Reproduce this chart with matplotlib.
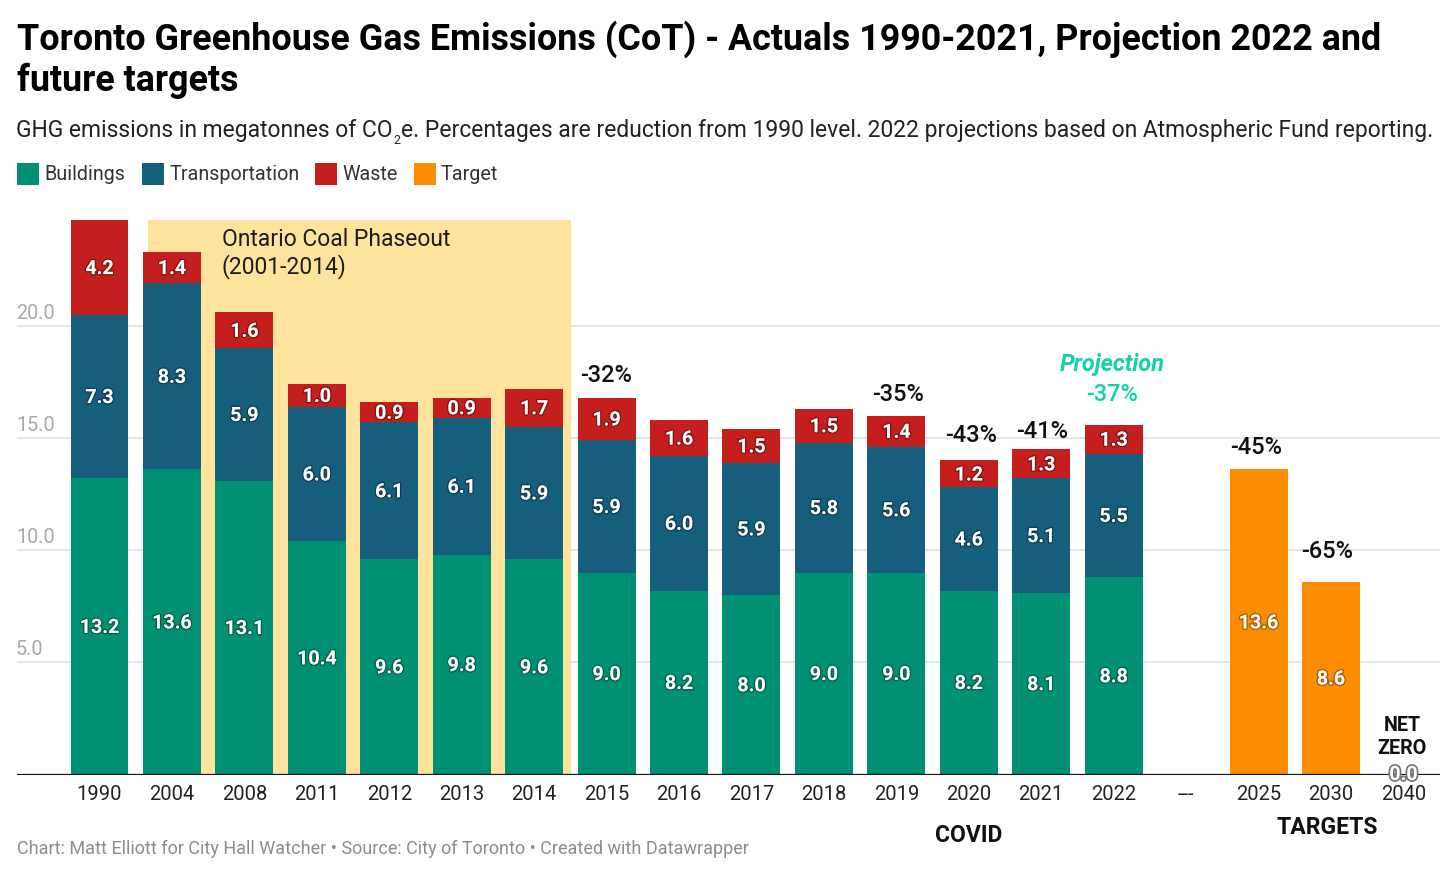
import matplotlib
matplotlib.use('Agg')
import matplotlib.pyplot as plt
import matplotlib.patheffects as pe
from matplotlib.patches import Rectangle

plt.rcParams['font.family'] = ['Roboto', 'DejaVu Sans']

years = ['1990', '2004', '2008', '2011', '2012', '2013', '2014', '2015', '2016',
         '2017', '2018', '2019', '2020', '2021', '2022', '---', '2025', '2030', '2040']
buildings = [13.2, 13.6, 13.1, 10.4, 9.6, 9.8, 9.6, 9.0, 8.2, 8.0, 9.0, 9.0, 8.2, 8.1, 8.8]
transportation = [7.3, 8.3, 5.9, 6.0, 6.1, 6.1, 5.9, 5.9, 6.0, 5.9, 5.8, 5.6, 4.6, 5.1, 5.5]
waste = [4.2, 1.4, 1.6, 1.0, 0.9, 0.9, 1.7, 1.9, 1.6, 1.5, 1.5, 1.4, 1.2, 1.3, 1.3]
target_years = ['2025', '2030', '2040']
target = [13.6, 8.6, 0.0]
y_ticks = [5, 10, 15, 20]
# year -> reduction label shown above the bar
reductions = {'2015': '-32%', '2019': '-35%', '2020': '-43%', '2021': '-41%',
              '2025': '-45%', '2030': '-65%'}
# hand placed offsets of those labels from the bar top, in pixels
reduction_offsets = {'2015': (-1, 22), '2019': (2, 21), '2020': (2, 25), '2021': (1, 18),
                     '2025': (-2, 22), '2030': (-4, 30)}

GREEN = '#009175'
BLUE = '#155f7d'
RED = '#c41e1e'
ORANGE = '#fc8c00'
W, H = 1456, 876


def px(x):
    return x / W


def py(y):
    return 1 - y / H


def bar_label(ax, x, y, s):
    ax.annotate(s, (x, y), xytext=(0, -1), textcoords='offset pixels', ha='center',
                va='center', color='white', fontsize=14.2, fontweight='bold', zorder=6,
                path_effects=[pe.withStroke(linewidth=2, foreground='#00000055')])


fig = plt.figure(figsize=(W / 100, H / 100), dpi=100)
ax = fig.add_axes([px(17), py(774.5), px(1440 - 17), (774.5 - 220) / H])
ax.set_xlim((17 - 99.5) / 72.44, (1440 - 99.5) / 72.44)
ax.set_ylim(0, (774.5 - 220) / 22.43)
for s in ax.spines.values():
    s.set_visible(False)
ax.set_yticks([])
ax.set_xticks([])

# gridlines and their labels
for t in y_ticks:
    ax.axhline(t, color='#e0e0e0', lw=1.2, zorder=1)
    ax.annotate(f'{t:.1f}', (0, t), xycoords=('axes fraction', 'data'),
                xytext=(-1, 3), textcoords='offset pixels', ha='left',
                va='bottom', color='#a8a8a8', fontsize=14.2)

# coal phaseout band
ax.add_patch(Rectangle((0.667, 0), 5.84, ax.get_ylim()[1], color='#fee39d',
                       lw=0, zorder=2))
ax.text(1.69, 23.24, 'Ontario Coal Phaseout\n(2001-2014)', fontsize=16.5,
        color='#1d1d1d', va='center', ha='left', zorder=3, linespacing=1.16)

xs = list(range(len(buildings)))
b2 = buildings
b3 = [a + b for a, b in zip(buildings, transportation)]
ax.bar(xs, buildings, width=0.8, color=GREEN, zorder=4)
ax.bar(xs, transportation, width=0.8, bottom=b2, color=BLUE, zorder=4)
ax.bar(xs, waste, width=0.8, bottom=b3, color=RED, zorder=4)
tx = [years.index(y) for y in target_years]
ax.bar(tx, target, width=0.8, color=ORANGE, zorder=4)

for i in xs:
    bar_label(ax, i, buildings[i] / 2, f'{buildings[i]:.1f}')
    bar_label(ax, i, b2[i] + transportation[i] / 2, f'{transportation[i]:.1f}')
    bar_label(ax, i, b3[i] + waste[i] / 2, f'{waste[i]:.1f}')
for i, v in zip(tx, target):
    if v > 0:
        bar_label(ax, i, v / 2, f'{v:.1f}')

ax.axhline(0, color='#111111', lw=1.6, zorder=5)
ax.text(tx[2], 0, '0.0', ha='center', va='center', color='white', fontsize=14.2,
        fontweight='bold', zorder=7,
        path_effects=[pe.withStroke(linewidth=2.5, foreground='#777777')])

# x labels
for i, y in enumerate(years):
    ax.annotate(y, (i, 0), xycoords=('data', 'axes fraction'), xytext=(0, -20),
                textcoords='offset pixels', ha='center', va='center',
                fontsize=14.5, color='#222222')

# reduction labels
for y, s in reductions.items():
    i = years.index(y)
    top = target[target_years.index(y)] if y in target_years else b3[i] + waste[i]
    ax.annotate(s, (i, top), xytext=reduction_offsets[y], textcoords='offset pixels',
                ha='center', va='center', fontsize=17, fontweight='medium',
                color='#111111', zorder=7)

ax.text(13.98, 16.94, '-37%', ha='center', va='center', fontsize=17,
        fontweight='medium', color='#12d3a5', zorder=7)
ax.text(13.98, 18.28, 'Projection', ha='center', va='center', fontsize=16.8,
        fontweight='bold', style='italic', color='#12d3a5', zorder=7)
ax.text(17.98, 1.68, 'NET\nZERO', ha='center', va='center', fontsize=14.2,
        fontweight='bold', color='#111111', zorder=7, linespacing=1.3)

# text outside the plot area
fig.text(px(17), py(39), 'Toronto Greenhouse Gas Emissions (CoT) - Actuals 1990-2021, '
         'Projection 2022 and', fontsize=25.85, fontweight='bold', color='black', va='center')
fig.text(px(17), py(81), 'future targets', fontsize=25.85, fontweight='bold',
         color='black', va='center')

# subtitle in three pieces so the subscript can sit low and small
renderer = fig.canvas.get_renderer()
sub_a = fig.text(px(16.5), py(131), 'GHG emissions in megatonnes of CO', fontsize=16.5,
                 color='#222222', va='center')
xa = sub_a.get_window_extent(renderer).x1
sub_2 = fig.text((xa + 0.5) / W, py(141), '2', fontsize=9, color='#222222', va='center')
xb = sub_2.get_window_extent(renderer).x1
fig.text((xb + 0.5) / W, py(131), 'e. Percentages are reduction from 1990 level. '
         '2022 projections based on Atmospheric Fund reporting.', fontsize=16.5,
         color='#222222', va='center')

legend_items = [('Buildings', GREEN, 17), ('Transportation', BLUE, 142),
                ('Waste', RED, 315), ('Target', ORANGE, 414)]
for name, c, x in legend_items:
    fig.add_artist(Rectangle((px(x), py(185)), 22 / W, 22 / H, color=c, lw=0,
                             transform=fig.transFigure))
    fig.text(px(x + 27), py(174), name, fontsize=14.25, color='#333333', va='center')

fig.text(px(969), py(835), 'COVID', fontsize=16.5, fontweight='bold', color='#111111',
         ha='center', va='center')
fig.text(px(1327), py(827), 'TARGETS', fontsize=16.6, fontweight='bold', color='#111111',
         ha='center', va='center')
fig.text(px(17), py(849), 'Chart: Matt Elliott for City Hall Watcher \u2022 Source: City '
         'of Toronto \u2022 Created with Datawrapper', fontsize=12.96, color='#8c8c8c',
         va='center')

fig.savefig('out.png', dpi=100)
plt.close()
